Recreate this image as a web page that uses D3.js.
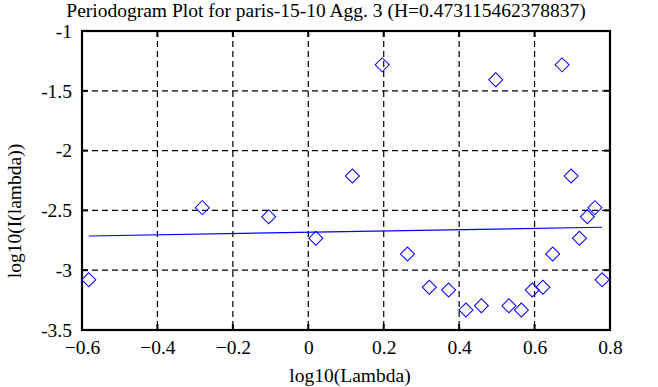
<!DOCTYPE html>
<html><head><meta charset="utf-8">
<script src="https://cdn.jsdelivr.net/npm/d3@7"></script>
<style>
body{margin:0;background:#fff;}
text{font-family:"Liberation Serif","Times New Roman",serif;fill:#000;}
</style></head><body>
<svg id="c" width="658" height="387"></svg>
<script>
const titleText = "Periodogram Plot for paris-15-10 Agg. 3 (H=0.473115462378837)";
const xLabel = "log10(Lambda)";
const yLabel = "log10(I(lambda))";
const logLambda = [-0.582,-0.281,-0.105,0.020,0.117,0.196,0.263,0.321,0.372,0.418,0.459,0.497,0.532,0.565,0.594,0.622,0.648,0.673,0.697,0.719,0.740,0.760,0.779];
const logI = [-3.08,-2.477,-2.553,-2.733,-2.212,-1.283,-2.865,-3.143,-3.166,-3.333,-3.297,-1.407,-3.297,-3.333,-3.166,-3.143,-2.865,-1.283,-2.212,-2.733,-2.553,-2.477,-3.08];
const fitX = [-0.582, 0.779];
const fitY = [-2.714, -2.641];
const xTicks = [-0.6,-0.4,-0.2,0,0.2,0.4,0.6,0.8];
const yTicks = [-1,-1.5,-2,-2.5,-3,-3.5];

const svg = d3.select("#c");
const L=82,R=610,T=31,B=330;
const x = d3.scaleLinear().domain([-0.6,0.8]).range([L,R]);
const y = d3.scaleLinear().domain([-3.5,-1]).range([B,T]);

// grid
const g = svg.append("g");
g.selectAll(".vg").data(xTicks.slice(1,-1)).enter().append("line")
 .attr("x1",d=>x(d)).attr("x2",d=>x(d)).attr("y1",T).attr("y2",B)
 .attr("stroke","#000").attr("stroke-width",1.2).attr("stroke-dasharray","6,4");
g.selectAll(".hg").data(yTicks.slice(1,-1)).enter().append("line")
 .attr("y1",d=>y(d)).attr("y2",d=>y(d)).attr("x1",L).attr("x2",R)
 .attr("stroke","#000").attr("stroke-width",1.2).attr("stroke-dasharray","6,4");

// axes
const fs = 19.5;
const xb = svg.append("g").attr("transform",`translate(0,${B})`)
 .call(d3.axisBottom(x).tickValues(xTicks).tickSize(0).tickPadding(12).tickFormat(d=>d3.format("")(+d.toFixed(1))));
const xt = svg.append("g").attr("transform",`translate(0,${T})`)
 .call(d3.axisTop(x).tickValues(xTicks).tickSize(0).tickFormat(""));
const yl = svg.append("g").attr("transform",`translate(${L},0)`)
 .call(d3.axisLeft(y).tickValues(yTicks).tickSize(0).tickPadding(10).tickFormat(d=>String(d)));
const yr = svg.append("g").attr("transform",`translate(${R},0)`)
 .call(d3.axisRight(y).tickValues(yTicks).tickSize(0).tickFormat(""));
[xb,xt,yl,yr].forEach(a=>{a.select(".domain").remove();a.selectAll("text").attr("font-size",fs).attr("font-family","Liberation Serif").attr("fill","#000");});
xb.selectAll("text").attr("dy","0.6em");
// inward tick marks
xTicks.forEach(v=>{
  svg.append("line").attr("x1",x(v)).attr("x2",x(v)).attr("y1",B).attr("y2",B-6).attr("stroke","#000").attr("stroke-width",2);
  svg.append("line").attr("x1",x(v)).attr("x2",x(v)).attr("y1",T).attr("y2",T+6).attr("stroke","#000").attr("stroke-width",2);
});
yTicks.forEach(v=>{
  svg.append("line").attr("x1",L).attr("x2",L+6).attr("y1",y(v)).attr("y2",y(v)).attr("stroke","#000").attr("stroke-width",2);
  svg.append("line").attr("x1",R).attr("x2",R-6).attr("y1",y(v)).attr("y2",y(v)).attr("stroke","#000").attr("stroke-width",2);
});
svg.append("rect").attr("x",L).attr("y",T).attr("width",R-L).attr("height",B-T)
 .attr("fill","none").attr("stroke","#000").attr("stroke-width",2.2);

// fit line
svg.append("path").datum(fitX.map((v,i)=>[v,fitY[i]]))
 .attr("d",d3.line().x(d=>x(d[0])).y(d=>y(d[1])))
 .attr("stroke","#0000ff").attr("stroke-width",1.2).attr("fill","none");

// points
svg.selectAll(".pt").data(logLambda.map((v,i)=>[v,logI[i]])).enter().append("path")
 .attr("d",d3.symbol().type(d3.symbolSquare).size(98))
 .attr("transform",d=>`translate(${x(d[0])},${y(d[1])}) rotate(45)`)
 .attr("fill","none").attr("stroke","#0000ff").attr("stroke-width",1);

// titles
svg.append("text").attr("x",326).attr("y",17).attr("text-anchor","middle").attr("font-size",fs).text(titleText);
svg.append("text").attr("x",350).attr("y",382).attr("text-anchor","middle").attr("font-size",fs).text(xLabel);
svg.append("text").attr("transform",`translate(21,211) rotate(-90)`).attr("text-anchor","middle").attr("font-size",fs).text(yLabel);
</script></body></html>
